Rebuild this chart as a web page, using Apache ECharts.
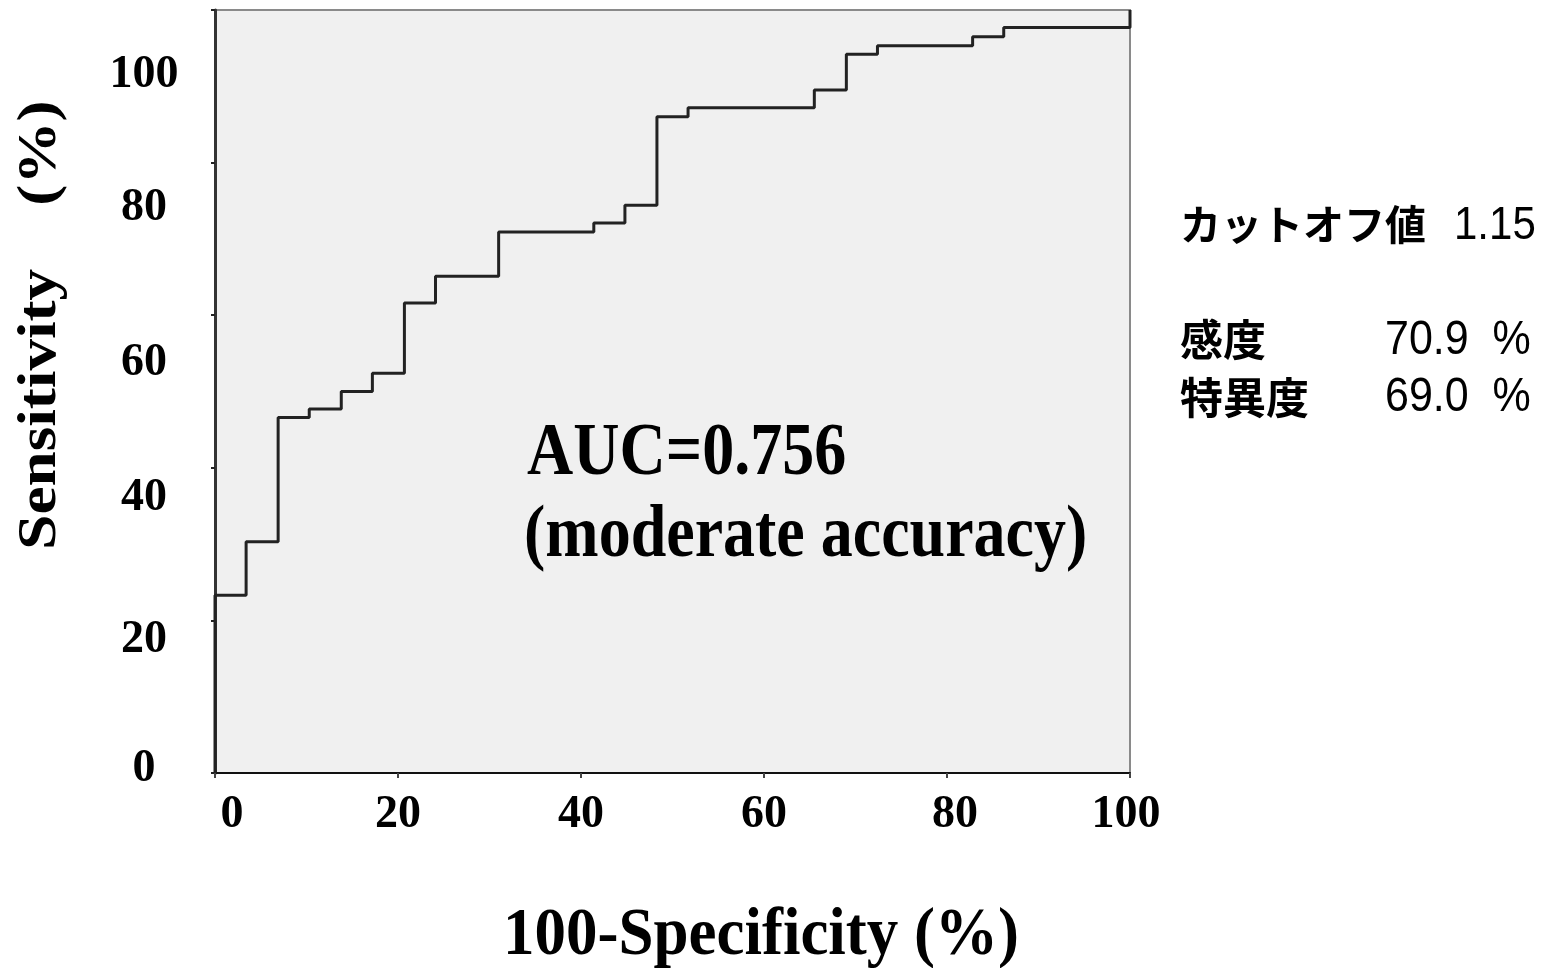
<!DOCTYPE html>
<html>
<head>
<meta charset="utf-8">
<title>ROC curve</title>
<script src="https://cdn.jsdelivr.net/npm/echarts@6/dist/echarts.min.js"></script>
<style>
  html, body { margin: 0; padding: 0; background: #ffffff; }
  #chart { width: 1560px; height: 968px; }
</style>
</head>
<body>
<div id="chart"></div>
<script>
// ROC curve steps: 100 - specificity (%) where sensitivity (%) jumps to a new level
const falsePositiveRate = [0, 0, 3.4, 6.9, 10.3, 13.8, 17.2, 20.7, 24.1, 31.0, 41.4, 44.8, 48.3, 51.7, 65.5, 69.0, 72.4, 82.8, 86.2, 100];
const sensitivity       = [0, 23.3, 30.3, 46.6, 47.7, 50.0, 52.4, 61.6, 65.1, 70.9, 72.1, 74.4, 86.0, 87.2, 89.5, 94.2, 95.3, 96.5, 97.7, 100];

// Axis tick labels
const xTickLabels = ['0', '20', '40', '60', '80', '100'];
const yTickLabels = ['0', '20', '40', '60', '80', '100'];

// Summary figures
const aucValue = 0.756;
const aucNote = '(moderate accuracy)';
const cutoffValue = 1.15;
const cutoffSensitivity = 70.9;
const cutoffSpecificity = 69.0;

const serif = '"Liberation Serif", "Times New Roman", serif';
const gothic = '"Noto Sans CJK JP", sans-serif';
const sans = '"Liberation Sans", Arial, sans-serif';

const chart = echarts.init(document.getElementById('chart'), null, { renderer: 'canvas' });

const tickFont = { fontSize: 46, fontWeight: 'bold', fontFamily: serif, color: '#000' };

// per-label padding used to nudge individual tick labels
const xLabelPad = { 0: [0, 0, 0, 34], 80: [0, 0, 0, 16], 100: [0, 8, 0, 0] };
const yLabelPad = { 0: [0, 0, 9, 0], 20: [13, 0, 0, 0], 40: [9, 0, 0, 0], 60: [19, 0, 0, 0], 80: [0, 0, 12, 0], 100: [3, 0, 0, 0] };

function richFor(padMap) {
  const rich = { n: Object.assign({}, tickFont) };
  Object.keys(padMap).forEach(k => {
    rich['p' + k] = Object.assign({}, tickFont, { padding: padMap[k] });
  });
  return rich;
}
function labelFormatter(labels, padMap) {
  return v => {
    const lab = labels[Math.round(v / 20)];
    const key = padMap[v] ? 'p' + v : 'n';
    return '{' + key + '|' + lab + '}';
  };
}

const rocPoints = falsePositiveRate.map((x, i) => [x, sensitivity[i]]);

const option = {
  animation: false,
  backgroundColor: '#ffffff',
  grid: [
    {
      left: 215, right: 430, top: 10, bottom: 195,
      show: true, backgroundColor: '#f0f0f0', borderColor: '#8a8a8a', borderWidth: 2,
      containLabel: false, outerBoundsMode: 'none'
    },
    {
      // carries the sensitivity tick labels
      left: 215, right: 430, top: 74, bottom: 194,
      show: false, containLabel: false, outerBoundsMode: 'none'
    }
  ],
  xAxis: [
    {
      type: 'value', gridIndex: 0, min: 0, max: 100, interval: 20,
      axisLine: { show: true, lineStyle: { color: '#111', width: 2 } },
      axisTick: { show: true, length: 5, lineStyle: { color: '#444', width: 2 } },
      splitLine: { show: false },
      axisLabel: {
        margin: 19,
        formatter: labelFormatter(xTickLabels, xLabelPad),
        rich: richFor(xLabelPad)
      }
    },
    { type: 'value', gridIndex: 1, min: 0, max: 100, show: false }
  ],
  yAxis: [
    {
      type: 'value', gridIndex: 0, min: 0, max: 100, interval: 20,
      axisLine: { show: true, lineStyle: { color: '#333', width: 3 } },
      axisTick: { show: true, length: 4, lineStyle: { color: '#222', width: 2 } },
      splitLine: { show: false },
      axisLabel: { show: false }
    },
    {
      type: 'value', gridIndex: 1, min: 0, max: 100, interval: 20,
      axisLine: { show: false }, axisTick: { show: false }, splitLine: { show: false },
      axisLabel: {
        margin: 71, align: 'center',
        formatter: labelFormatter(yTickLabels, yLabelPad),
        rich: richFor(yLabelPad)
      }
    }
  ],
  series: [
    {
      type: 'line', xAxisIndex: 0, yAxisIndex: 0,
      data: rocPoints,
      step: 'end',
      symbol: 'none',
      lineStyle: { color: '#222', width: 3 },
      z: 5
    }
  ],
  graphic: [
    {
      type: 'text', x: 41.5, y: 325, rotation: Math.PI / 2, scaleX: 1.17,
      style: { text: 'Sensitivity    (%)', fontSize: 54, fontWeight: 'bold', fontFamily: serif, fill: '#000', align: 'center', verticalAlign: 'middle' }
    },
    {
      type: 'text', x: 761, y: 936, scaleY: 1.08,
      style: { text: '100-Specificity (%)', fontSize: 63, fontWeight: 'bold', fontFamily: serif, fill: '#000', align: 'center', verticalAlign: 'middle' }
    },
    {
      type: 'text', x: 527, y: 455, scaleY: 1.15,
      style: { text: 'AUC=' + aucValue.toFixed(3), fontSize: 64, fontWeight: 'bold', fontFamily: serif, fill: '#000', align: 'left', verticalAlign: 'middle' }
    },
    {
      type: 'text', x: 524, y: 537, scaleY: 1.15,
      style: { text: aucNote, fontSize: 64, fontWeight: 'bold', fontFamily: serif, fill: '#000', align: 'left', verticalAlign: 'middle' }
    },
    {
      type: 'text', x: 1180, y: 224,
      style: { text: 'カットオフ値', fontSize: 41, fontWeight: 'bold', fontFamily: gothic, fill: '#000', align: 'left', verticalAlign: 'middle' }
    },
    {
      type: 'text', x: 1454, y: 226, scaleY: 1.12,
      style: { text: cutoffValue.toFixed(2), fontSize: 42, fontFamily: sans, fill: '#000', align: 'left', verticalAlign: 'middle' }
    },
    {
      type: 'text', x: 1180, y: 340,
      style: { text: '感度', fontSize: 43, fontWeight: 'bold', fontFamily: gothic, fill: '#000', align: 'left', verticalAlign: 'middle' }
    },
    {
      type: 'text', x: 1385, y: 341, scaleY: 1.1,
      style: { text: cutoffSensitivity.toFixed(1) + '  %', fontSize: 43, fontFamily: sans, fill: '#000', align: 'left', verticalAlign: 'middle' }
    },
    {
      type: 'text', x: 1180, y: 398,
      style: { text: '特異度', fontSize: 43, fontWeight: 'bold', fontFamily: gothic, fill: '#000', align: 'left', verticalAlign: 'middle' }
    },
    {
      type: 'text', x: 1385, y: 398, scaleY: 1.1,
      style: { text: cutoffSpecificity.toFixed(1) + '  %', fontSize: 43, fontFamily: sans, fill: '#000', align: 'left', verticalAlign: 'middle' }
    }
  ]
};

chart.setOption(option);
</script>
</body>
</html>
